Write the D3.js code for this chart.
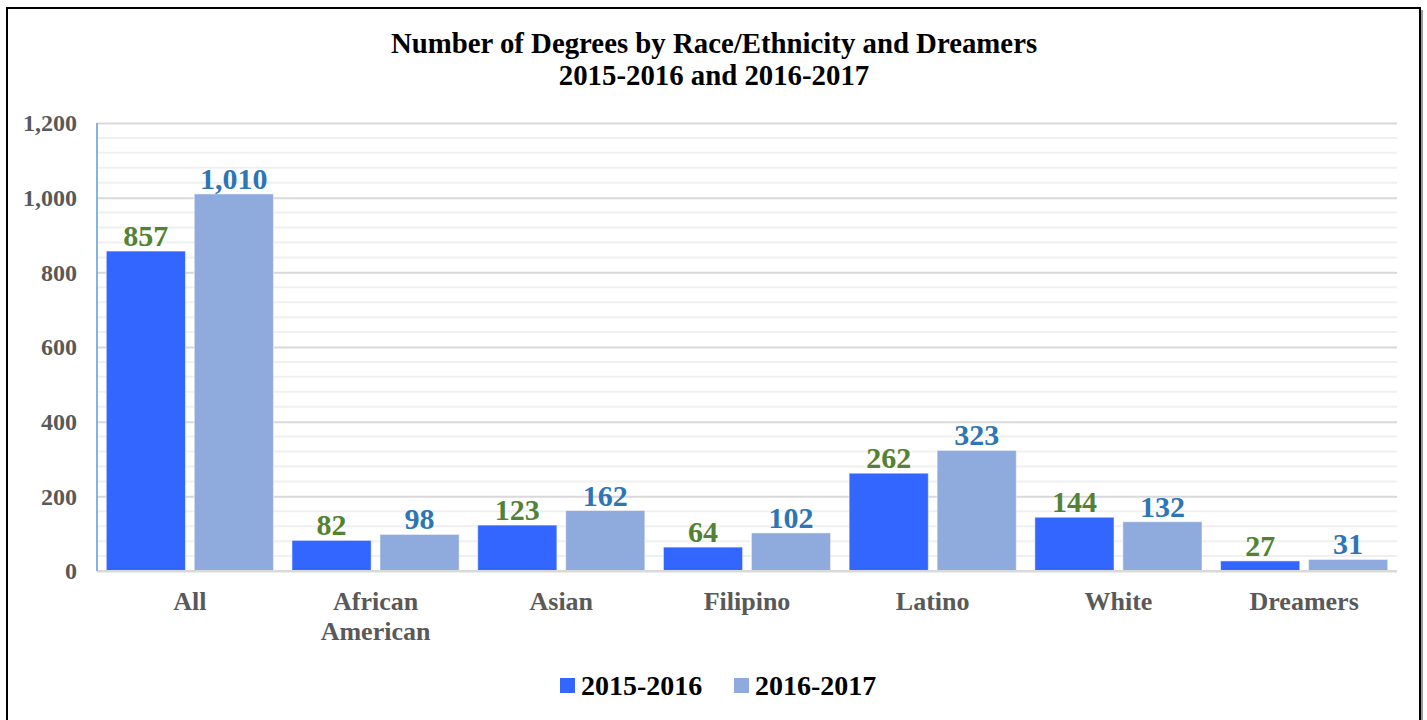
<!DOCTYPE html>
<html lang="en">
<head>
    <meta charset="UTF-8">
    <title>Number of Degrees by Race/Ethnicity and Dreamers</title>
    <script src="https://d3js.org/d3.v7.min.js"></script>
    <style>
        body {
            margin: 0;
            background-color: #ffffff;
        }
        text {
            font-family: 'Liberation Serif', 'Times New Roman', serif;
            font-weight: bold;
        }
    </style>
</head>
<body>
    <script>
        // Data
        const categories = ["All", "African American", "Asian", "Filipino", "Latino", "White", "Dreamers"];
        const series = ["2015-2016", "2016-2017"];
        const values2015 = [857, 82, 123, 64, 262, 144, 27];
        const values2016 = [1010, 98, 162, 102, 323, 132, 31];
        const yTicks = [0, 200, 400, 600, 800, 1000, 1200];

        const barColors = ["#3366ff", "#8faadc"];
        const labelColors = ["#548235", "#2e75b6"];

        const W = 1427, H = 720;
        const margin = {top: 123, right: 30, bottom: 149, left: 97},
              width = W - margin.left - margin.right,
              height = H - margin.top - margin.bottom;

        const svg = d3.select("body").append("svg")
            .attr("width", W)
            .attr("height", H);

        // outer frame with a little shadow on the right
        svg.append("rect")
            .attr("x", 9).attr("y", 10)
            .attr("width", 1414).attr("height", 720)
            .attr("fill", "#9a9a9a");
        svg.append("rect")
            .attr("x", 7).attr("y", 8)
            .attr("width", 1413).attr("height", 720)
            .attr("fill", "#fff")
            .attr("stroke", "#000")
            .attr("stroke-width", 2);

        // Title
        const title = svg.append("text")
            .attr("text-anchor", "middle")
            .attr("font-size", 28.8)
            .attr("fill", "#000");
        title.append("tspan").attr("x", 714).attr("y", 53).text("Number of Degrees by Race/Ethnicity and Dreamers");
        title.append("tspan").attr("x", 714).attr("y", 85).text("2015-2016 and 2016-2017");

        const g = svg.append("g")
            .attr("transform", "translate(" + margin.left + "," + margin.top + ")");

        // Scales
        const x0 = d3.scaleBand().domain(categories).range([0, width]).paddingInner(0.1).paddingOuter(0.05);
        const x1 = d3.scaleBand().domain(series).range([0, x0.bandwidth()]).paddingInner(0.1);
        const y = d3.scaleLinear().domain([0, 1200]).range([height, 0]);

        // minor gridlines
        g.append("g")
            .selectAll("line")
            .data(d3.range(0, 1201, 40).filter(d => d % 200 !== 0))
            .join("line")
            .attr("x1", 0).attr("x2", width)
            .attr("y1", d => y(d)).attr("y2", d => y(d))
            .attr("stroke", "#f0f0f0")
            .attr("stroke-width", 2);

        // major gridlines
        g.append("g")
            .call(d3.axisLeft(y).tickValues(yTicks).tickSize(-width).tickFormat(""))
            .call(a => a.select(".domain").remove())
            .call(a => a.selectAll("line").attr("stroke", "#d9d9d9").attr("stroke-width", 2));

        // y tick labels
        g.append("g")
            .call(d3.axisLeft(y).tickValues(yTicks).tickSize(0).tickPadding(20).tickFormat(d3.format(",")))
            .call(a => a.select(".domain").remove())
            .call(a => a.selectAll("text")
                .attr("font-size", 24)
                .attr("font-family", "'Liberation Serif', serif")
                .attr("font-weight", "bold")
                .attr("fill", "#595959"));

        // Bars
        const groups = g.append("g")
            .selectAll("g")
            .data(categories)
            .join("g")
            .attr("transform", d => "translate(" + x0(d) + ",0)");

        const rows = (d, i) => [
            {s: series[0], v: values2015[i], k: 0},
            {s: series[1], v: values2016[i], k: 1}
        ];

        groups.selectAll("rect")
            .data(rows)
            .join("rect")
            .attr("x", d => x1(d.s))
            .attr("y", d => y(d.v))
            .attr("width", x1.bandwidth())
            .attr("height", d => y(0) - y(d.v))
            .attr("fill", d => barColors[d.k])
            .attr("stroke", "#ffffff")
            .attr("stroke-opacity", 0.5)
            .attr("stroke-width", 1);

        groups.selectAll("text.val")
            .data(rows)
            .join("text")
            .attr("class", "val")
            .attr("x", d => x1(d.s) + x1.bandwidth() / 2)
            .attr("y", d => y(d.v) - 5)
            .attr("text-anchor", "middle")
            .attr("font-size", 30)
            .attr("fill", d => labelColors[d.k])
            .text(d => d3.format(",")(d.v));

        // axis lines
        g.append("line")
            .attr("x1", 0).attr("x2", width)
            .attr("y1", height).attr("y2", height)
            .attr("stroke", "#d9d9d9").attr("stroke-width", 2);
        g.append("line")
            .attr("x1", 0).attr("x2", 0)
            .attr("y1", 0).attr("y2", height)
            .attr("stroke", "#5b9bd5").attr("stroke-width", 1.5);

        // category labels (wrapped)
        const catLabels = g.append("g")
            .selectAll("text")
            .data(categories)
            .join("text")
            .attr("text-anchor", "middle")
            .attr("font-size", 26)
            .attr("fill", "#595959");
        catLabels.each(function(d) {
            const words = d.split(" ");
            const t = d3.select(this);
            words.forEach((w, i) => {
                t.append("tspan")
                    .attr("x", x0(d) + x0.bandwidth() / 2)
                    .attr("y", height + 39 + i * 30)
                    .text(w);
            });
        });

        // Legend
        const legendX = [560, 734];
        const legend = svg.append("g")
            .selectAll("g")
            .data(series)
            .join("g")
            .attr("transform", (d, i) => "translate(" + legendX[i] + ",678)");
        legend.append("rect")
            .attr("width", 15).attr("height", 15)
            .attr("fill", (d, i) => barColors[i]);
        legend.append("text")
            .attr("x", 21).attr("y", 17)
            .attr("font-size", 28)
            .attr("fill", "#000")
            .text(d => d);
    </script>
</body>
</html>
